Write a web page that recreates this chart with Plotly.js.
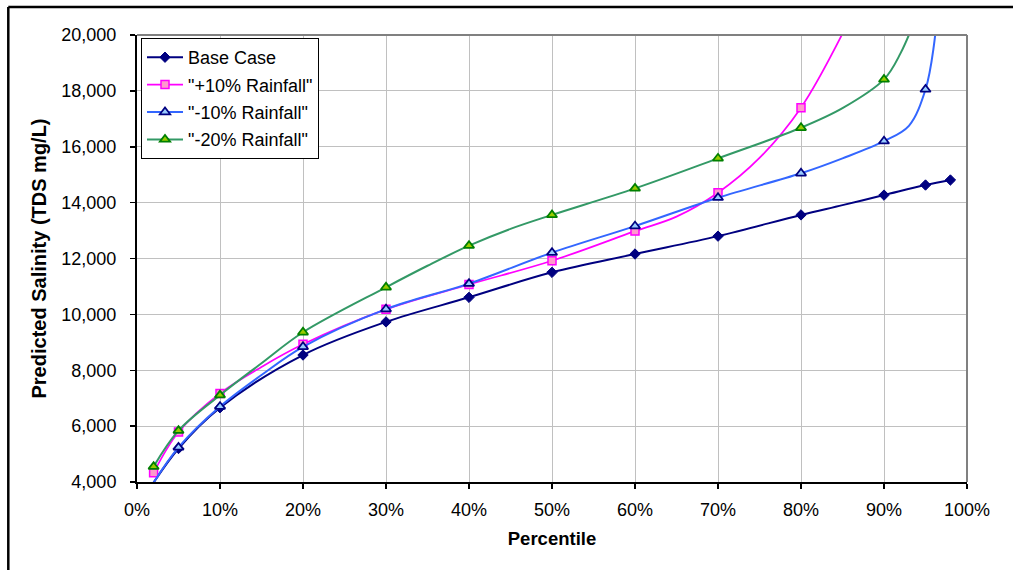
<!DOCTYPE html>
<html>
<head>
<meta charset="utf-8">
<script src="https://cdn.plot.ly/plotly-3.0.1.min.js"></script>
<style>
html,body{margin:0;padding:0;background:#fff;}
#chart{width:1013px;height:570px;}
</style>
</head>
<body>
<div id="chart"></div>
<script>
// ---- data (percentile %, predicted TDS mg/L) ----
const seriesNames = ['Base Case', '"+10% Rainfall"', '"-10% Rainfall"', '"-20% Rainfall"'];

const basePct = [2, 5, 10, 20, 30, 40, 50, 60, 70, 80, 85, 90, 95, 98];
const baseTDS = [3980, 5200, 6660, 8545, 9730, 10610, 11505, 12160, 12800, 13560, 13910, 14270, 14630, 14810];
const baseMarkedPct = [5, 10, 20, 30, 40, 50, 60, 70, 80, 90, 95, 98];

const plus10Pct = [2, 5, 10, 15, 20, 30, 40, 50, 60, 65, 70, 75, 80, 85];
const plus10TDS = [4330, 5790, 7170, 8120, 8930, 10180, 11070, 11920, 12980, 13500, 14355, 15600, 17400, 20050];
const plus10MarkedPct = [2, 5, 10, 20, 30, 40, 50, 60, 70, 80];

const minus10Pct = [2, 5, 10, 15, 20, 30, 40, 50, 60, 70, 80, 85, 90, 93, 95, 96, 97];
const minus10TDS = [3980, 5240, 6700, 7830, 8840, 10190, 11100, 12210, 13160, 14175, 15050, 15585, 16200, 16750, 18050, 19600, 23000];
const minus10MarkedPct = [5, 10, 20, 30, 40, 50, 60, 70, 80, 90, 95];

const minus20Pct = [2, 5, 10, 15, 20, 30, 35, 40, 45, 50, 60, 70, 80, 85, 90, 92, 95];
const minus20TDS = [4550, 5840, 7110, 8250, 9360, 10970, 11740, 12460, 13060, 13560, 14510, 15585, 16680, 17380, 18410, 19350, 21500];
const minus20MarkedPct = [2, 5, 10, 20, 30, 40, 50, 60, 70, 80, 90];

const xTickVals = [0, 10, 20, 30, 40, 50, 60, 70, 80, 90, 100];
const xTickLabels = ['0%', '10%', '20%', '30%', '40%', '50%', '60%', '70%', '80%', '90%', '100%'];
const yTickVals = [4000, 6000, 8000, 10000, 12000, 14000, 16000, 18000, 20000];

// ---- styles ----
const styles = [
  {line: '#000080', lw: 2, symbol: 'diamond', size: 8, fill: '#000080', edge: '#000080', ew: 1},
  {line: '#FF00FF', lw: 1.75, symbol: 'square', size: 8, fill: '#FF99CC', edge: '#FF00FF', ew: 1.5},
  {line: '#3366FF', lw: 2, symbol: 'triangle-up', size: 9, fill: '#99CCFF', edge: '#000080', ew: 1.75},
  {line: '#339966', lw: 2, symbol: 'triangle-up', size: 9, fill: '#99CC00', edge: '#008000', ew: 1.75}
];

const dataSets = [
  [basePct, baseTDS, baseMarkedPct],
  [plus10Pct, plus10TDS, plus10MarkedPct],
  [minus10Pct, minus10TDS, minus10MarkedPct],
  [minus20Pct, minus20TDS, minus20MarkedPct]
];

const traces = [];
dataSets.forEach(function(ds, k) {
  const xs = ds[0], ys = ds[1], marked = ds[2], st = styles[k];
  const grp = 'g' + k;
  traces.push({
    type: 'scatter', mode: 'lines', x: xs, y: ys,
    line: {color: st.line, width: st.lw, shape: 'spline', smoothing: 1},
    showlegend: false, legendgroup: grp, hoverinfo: 'skip'
  });
  const mx = [], my = [];
  marked.forEach(function(p) {
    const i = xs.indexOf(p);
    mx.push(p, p);
    my.push(ys[i], null);
  });
  traces.push({
    type: 'scatter', mode: 'lines+markers', x: mx, y: my, connectgaps: false,
    name: seriesNames[k], legendgroup: grp,
    line: {color: st.line, width: st.lw},
    marker: {symbol: st.symbol, size: st.size, color: st.fill, line: {color: st.edge, width: st.ew}}
  });
});

const FONT = '"Liberation Sans", Arial, sans-serif';
const px2x = function(px) { return (px - 137) / 830; };
const px2y = function(py) { return (482 - py) / 447; };

const layout = {
  width: 1013, height: 570,
  margin: {l: 137, r: 46, t: 35, b: 88, pad: 0},
  paper_bgcolor: '#ffffff', plot_bgcolor: '#ffffff',
  font: {family: FONT, size: 18, color: '#000000'},
  showlegend: true,
  legend: {
    x: px2x(141), y: px2y(38), xanchor: 'left', yanchor: 'top',
    bgcolor: '#ffffff', bordercolor: '#000000', borderwidth: 1,
    font: {family: FONT, size: 18, color: '#000000'},
    itemwidth: 36, traceorder: 'grouped', tracegroupgap: 1
  },
  xaxis: {
    range: [0, 100], tickvals: xTickVals, ticktext: xTickLabels,
    showgrid: true, gridcolor: '#C0C0C0', gridwidth: 1, zeroline: false,
    showline: true, linecolor: '#000000', linewidth: 2,
    ticks: 'outside', ticklen: 5, tickwidth: 1.5, tickcolor: '#000000',
    ticklabelstandoff: 5,
    tickfont: {family: FONT, size: 18, color: '#000000'},
    title: {text: 'Percentile', font: {family: FONT, size: 18.5, weight: 'bold', color: '#000000'}, standoff: 13},
    fixedrange: true
  },
  yaxis: {
    range: [4000, 20000], tickvals: yTickVals, tickformat: ',',
    showgrid: true, gridcolor: '#C0C0C0', gridwidth: 1, zeroline: false,
    showline: true, linecolor: '#000000', linewidth: 2,
    ticks: 'outside', ticklen: 5, tickwidth: 1.5, tickcolor: '#000000',
    ticklabelstandoff: 10,
    tickfont: {family: FONT, size: 18, color: '#000000'},
    title: {text: 'Predicted Salinity (TDS mg/L)', font: {family: FONT, size: 20, weight: 'bold', color: '#000000'}, standoff: 9},
    fixedrange: true
  },
  shapes: [
    // plot-area grey frame (top and right)
    {type: 'line', xref: 'paper', yref: 'paper', x0: 0, x1: 1, y0: 1, y1: 1, line: {color: '#808080', width: 2}, layer: 'above'},
    {type: 'line', xref: 'paper', yref: 'paper', x0: 1, x1: 1, y0: 0, y1: 1, line: {color: '#808080', width: 2}, layer: 'above'},
    // outer chart frame (left and top edges visible)
    {type: 'line', xref: 'paper', yref: 'paper', x0: px2x(8.3), x1: px2x(8.3), y0: px2y(6.9), y1: px2y(575), line: {color: '#000000', width: 2.5}, layer: 'above'},
    {type: 'line', xref: 'paper', yref: 'paper', x0: px2x(8.3), x1: px2x(1020), y0: px2y(6.9), y1: px2y(6.9), line: {color: '#000000', width: 2.5}, layer: 'above'}
  ]
};

Plotly.newPlot('chart', traces, layout, {displayModeBar: false, staticPlot: true});
</script>
</body>
</html>
